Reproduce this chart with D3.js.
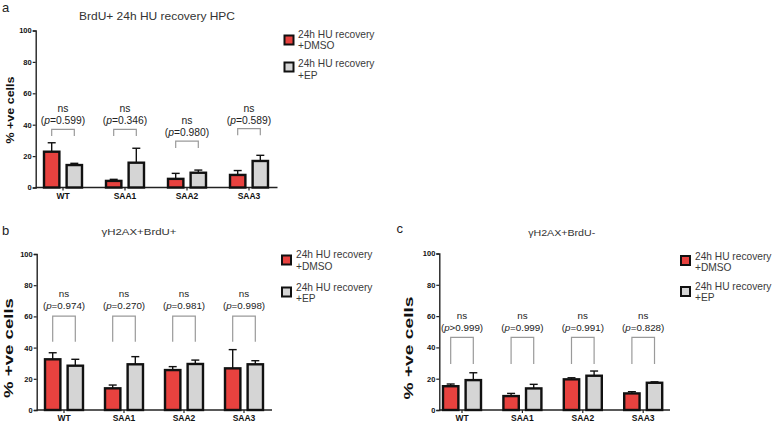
<!DOCTYPE html>
<html><head><meta charset="utf-8">
<script src="https://cdn.jsdelivr.net/npm/d3@7"></script>
<style>
html,body{margin:0;padding:0;background:#fff;}
svg{display:block;font-family:"Liberation Sans",Arial,sans-serif;}
</style></head>
<body>
<svg id="chart" width="778" height="426"></svg>
<script>
// ---------- data ----------
const categories = ["WT", "SAA1", "SAA2", "SAA3"];
const seriesNames = ["DMSO", "EP"];
const legendLabels = [["24h HU recovery", "+DMSO"], ["24h HU recovery", "+EP"]];
const yTicks = [0, 20, 40, 60, 80, 100];

// panel a : BrdU+ 24h HU recovery HPC
const aDMSO = [22.8, 4.2, 5.5, 8.0];
const aDMSOerr = [5.7, 1.0, 3.5, 2.8];
const aEP = [14.3, 15.8, 9.4, 16.9];
const aEPerr = [1.1, 9.2, 1.7, 3.6];
const aP = ["=0.599", "=0.346", "=0.980", "=0.589"];
const aBracketTop = [37, 37, 29.5, 37.5];
const aBracketBottom = [32.8, 32.8, 25.2, 33.3];

// panel b : γH2AX+BrdU+
const bDMSO = [32.5, 13.9, 25.6, 26.7];
const bDMSOerr = [4.2, 2.1, 2.2, 12.0];
const bEP = [28.4, 29.3, 29.5, 29.3];
const bEPerr = [4.1, 4.9, 2.5, 2.3];
const bP = ["=0.974", "=0.270", "=0.981", "=0.998"];
const bBracketTop = [60.2, 60.2, 60.2, 60.2];
const bBracketBottom = [43.8, 43.8, 43.8, 43.8];

// panel c : γH2AX+BrdU-
const cDMSO = [15.2, 8.9, 19.6, 10.6];
const cDMSOerr = [1.4, 1.7, 1.0, 1.1];
const cEP = [19.1, 13.8, 21.9, 17.4];
const cEPerr = [4.7, 2.6, 3.0, 0.6];
const cP = [">0.999", "=0.999", "=0.991", "=0.828"];
const cBracketTop = [46.4, 46.4, 46.4, 46.4];
const cBracketBottom = [29.4, 29.4, 29.4, 29.4];

const colors = {DMSO: "#e8423f", EP: "#d5d5d5"};

// ---------- drawing ----------
const svg = d3.select("#chart");

function panel(p) {
  const g = svg.append("g");
  const y = d3.scaleLinear().domain([0, 100]).range([p.y0, p.y1]);
  const x0 = d3.scaleBand().domain(categories).range(p.xr).padding(0);
  const x1 = d3.scaleBand().domain(seriesNames).range([-19, 19]).paddingInner(0.32);
  const cx = c => x0(c) + x0.bandwidth() / 2;

  // letter + title
  g.append("text").attr("x", p.letter[0]).attr("y", p.letter[1])
    .attr("font-size", 13).attr("fill", "#222").text(p.letterText);
  g.append("text").attr("x", p.title[0]).attr("y", p.title[1])
    .attr("text-anchor", "middle").attr("dominant-baseline", "central")
    .attr("font-size", p.titleSize).attr("fill", "#333")
    .attr("textLength", p.titleLen).attr("lengthAdjust", "spacingAndGlyphs")
    .text(p.titleText);

  // y axis
  const yAxis = d3.axisLeft(y).tickValues(yTicks).tickSize(3).tickPadding(1);
  const ya = g.append("g").attr("transform", `translate(${p.yx},0)`).call(yAxis);
  ya.attr("font-size", null).attr("font-family", null);
  ya.select(".domain").attr("stroke", "#222").attr("stroke-width", 1.4);
  ya.selectAll(".tick line").attr("stroke", "#222").attr("stroke-width", 1.2);
  ya.selectAll(".tick text").style("font-size", "7.5px").style("font-weight", "bold")
    .attr("fill", "#111");

  // y label
  g.append("text")
    .attr("transform", `translate(${p.ylab[0]},${p.ylab[1]}) rotate(-90)`)
    .attr("text-anchor", "middle").attr("dominant-baseline", "central")
    .style("font-size", p.ylabSize + "px").style("font-weight", "bold").attr("fill", "#111")
    .attr("textLength", p.ylabLen).attr("lengthAdjust", "spacingAndGlyphs")
    .text("% +ve cells");

  // x axis
  const xAxis = d3.axisBottom(x0).tickSize(3).tickPadding(2);
  const xa = g.append("g").attr("transform", `translate(0,${p.y0})`).call(xAxis);
  xa.attr("font-size", null).attr("font-family", null);
  xa.select(".domain").remove();
  xa.selectAll(".tick line").attr("stroke", "#222").attr("stroke-width", 1.2);
  xa.selectAll(".tick text").style("font-size", p.catSize + "px").style("font-weight", "bold")
    .attr("fill", "#111");
  g.append("line").attr("x1", p.yx).attr("x2", p.xEnd)
    .attr("y1", p.y0).attr("y2", p.y0).attr("stroke", "#222").attr("stroke-width", 1.4);

  // bars
  const rows = [];
  categories.forEach((c, i) => {
    rows.push({c, s: "DMSO", v: p.dmso[i], e: p.dmsoErr[i]});
    rows.push({c, s: "EP", v: p.ep[i], e: p.epErr[i]});
  });
  const bw = x1.bandwidth();
  rows.forEach(r => {
    const xc = cx(r.c) + x1(r.s) + bw / 2;
    g.append("line").attr("x1", xc).attr("x2", xc)
      .attr("y1", y(r.v)).attr("y2", y(r.v + r.e))
      .attr("stroke", "#111").attr("stroke-width", 1.4);
    g.append("line").attr("x1", xc - 4).attr("x2", xc + 4)
      .attr("y1", y(r.v + r.e)).attr("y2", y(r.v + r.e))
      .attr("stroke", "#111").attr("stroke-width", 1.4);
  });
  g.selectAll("rect.bar").data(rows).enter().append("rect")
    .attr("class", "bar")
    .attr("x", r => cx(r.c) + x1(r.s))
    .attr("width", bw)
    .attr("y", r => y(r.v))
    .attr("height", r => y(0) - y(r.v))
    .attr("fill", r => colors[r.s])
    .attr("stroke", "#111").attr("stroke-width", 2.4);

  // significance brackets
  categories.forEach((c, i) => {
    const xa_ = cx(c) + x1("DMSO") + bw / 2;
    const xb_ = cx(c) + x1("EP") + bw / 2;
    const yt = y(p.bTop[i]), yb = y(p.bBot[i]);
    g.append("path")
      .attr("d", `M${xa_},${yb}V${yt}H${xb_}V${yb}`)
      .attr("fill", "none").attr("stroke", "#9a9a9a").attr("stroke-width", 1.2);
    g.append("text").attr("x", cx(c)).attr("y", yt - p.nsOff)
      .attr("text-anchor", "middle").attr("dominant-baseline", "central")
      .attr("font-size", p.annSize).attr("fill", "#222").text("ns");
    const t = g.append("text").attr("x", cx(c)).attr("y", yt - p.pOff)
      .attr("text-anchor", "middle").attr("dominant-baseline", "central")
      .attr("font-size", p.annSize).attr("fill", "#222");
    t.append("tspan").text("(");
    t.append("tspan").attr("font-style", "italic").text("p");
    t.append("tspan").text(p.pv[i] + ")");
  });

  // legend
  seriesNames.forEach((s, i) => {
    const L = p.legend[i];
    g.append("rect").attr("x", L.sx).attr("y", L.sy).attr("width", 9).attr("height", 9)
      .attr("fill", colors[s]).attr("stroke", "#111").attr("stroke-width", 2);
    legendLabels[i].forEach((line, j) => {
      g.append("text").attr("x", L.tx).attr("y", L.ty[j])
        .attr("dominant-baseline", "central").attr("font-size", 10.2)
        .attr("fill", "#3a3a3a").text(line);
    });
  });
}

panel({
  letterText: "a", letter: [2, 12], title: [157, 15.5], titleText: "BrdU+ 24h HU recovery HPC",
  titleSize: 11.5, titleLen: 156,
  y0: 187.5, y1: 30.5, yx: 35.7, xr: [32, 280], xEnd: 277.5,
  ylab: [9.5, 110], ylabLen: 67, ylabSize: 11, catSize: 8.5,
  dmso: aDMSO, dmsoErr: aDMSOerr, ep: aEP, epErr: aEPerr, pv: aP,
  bTop: aBracketTop, bBot: aBracketBottom, nsOff: 20.5, pOff: 9, annSize: 10.3,
  legend: [{sx: 284.5, sy: 35.5, tx: 298, ty: [34, 45.5]},
           {sx: 284.5, sy: 62.5, tx: 298, ty: [63, 75]}]
});

panel({
  letterText: "b", letter: [2, 235], title: [139, 231.7], titleText: "γH2AX+BrdU+",
  titleSize: 9.5, titleLen: 75,
  y0: 410, y1: 254, yx: 36.7, xr: [34, 274], xEnd: 272,
  ylab: [8.5, 348], ylabLen: 100, ylabSize: 12.5, catSize: 8.5,
  dmso: bDMSO, dmsoErr: bDMSOerr, ep: bEP, epErr: bEPerr, pv: bP,
  bTop: bBracketTop, bBot: bBracketBottom, nsOff: 22.5, pOff: 11.5, annSize: 9.8,
  legend: [{sx: 282, sy: 255.5, tx: 296, ty: [254.5, 266]},
           {sx: 282, sy: 287.5, tx: 296, ty: [287, 298.5]}]
});

panel({
  letterText: "c", letter: [396.5, 232.5], title: [561.7, 232.7], titleText: "γH2AX+BrdU-",
  titleSize: 9.5, titleLen: 67,
  y0: 410, y1: 253.5, yx: 439.3, xr: [431.8, 673.4], xEnd: 670,
  ylab: [408.7, 348], ylabLen: 103, ylabSize: 12.5, catSize: 8.5,
  dmso: cDMSO, dmsoErr: cDMSOerr, ep: cEP, epErr: cEPerr, pv: cP,
  bTop: cBracketTop, bBot: cBracketBottom, nsOff: 22, pOff: 10.6, annSize: 9.8,
  legend: [{sx: 681, sy: 256, tx: 695, ty: [256, 267]},
           {sx: 681, sy: 287, tx: 695, ty: [286.5, 297.5]}]
});
</script>
</body></html>
